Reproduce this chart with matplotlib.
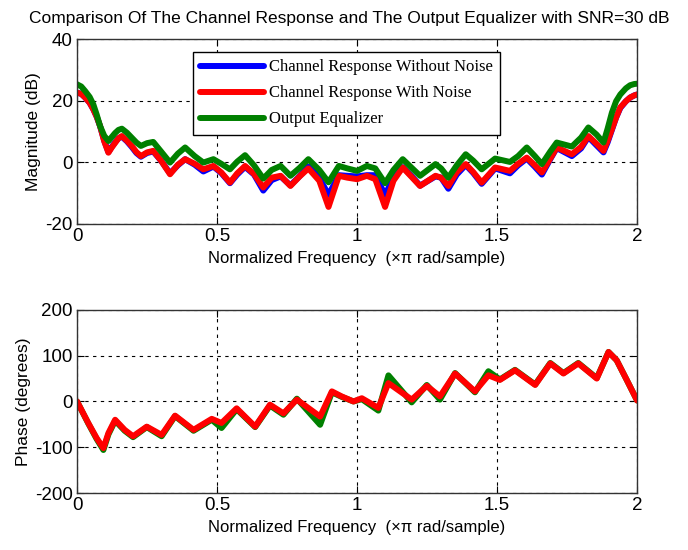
import matplotlib
matplotlib.use("Agg")
import matplotlib.pyplot as plt

# magnitude response (dB)
f_mag = [0, 0.015, 0.029, 0.045, 0.058, 0.07, 0.082, 0.097, 0.112, 0.124, 0.136, 0.148,
         0.16, 0.178, 0.195, 0.212, 0.228, 0.25, 0.272, 0.30, 0.332,
         0.36, 0.386, 0.42, 0.451, 0.487, 0.515, 0.546, 0.572, 0.60, 0.632, 0.665,
         0.695, 0.727, 0.762, 0.795, 0.826, 0.865, 0.898, 0.935, 0.965, 1.0,
         1.035, 1.065, 1.1, 1.13, 1.163, 1.195, 1.225, 1.28, 1.30, 1.326, 1.356,
         1.388, 1.415, 1.445, 1.493, 1.546, 1.575, 1.606, 1.635, 1.66, 1.69,
         1.713, 1.767, 1.80, 1.826, 1.855, 1.88, 1.895, 1.91, 1.925, 1.94, 1.96, 1.975, 1.99, 2.0]
mag_clean = [22.6, 22.2, 21.0, 19.3, 17.2, 14.8, 11.8, 7.0, 3.3, 5.0, 6.5, 7.8,
             8.3, 6.8, 5.0, 3.0, 1.8, 3.0, 3.5, 0.5, -3.6,
             -1.0, 1.0, -0.8, -3.0, -1.4, -3.5, -6.8, -4.0, -1.5, -4.0, -9.2,
             -5.8, -4.6, -7.5, -4.5, -1.4, -5.0, -10.6, -4.2, -4.4, -4.6,
             -4.2, -4.2, -10.6, -5.0, -1.6, -4.5, -7.6, -4.6, -5.0, -8.6, -4.0,
             -0.9, -3.5, -7.0, -2.0, -3.6, -1.0, 1.2, -1.5, -4.0, 1.0,
             4.6, 2.0, 4.5, 8.2, 5.5, 3.2, 6.5, 10.5, 14.5, 17.6, 19.8, 21.0, 21.7, 22.0]
mag_noise = [22.6, 22.2, 21.0, 19.3, 17.2, 14.8, 11.8, 6.8, 3.1, 4.8, 6.3, 7.8,
             8.5, 7.0, 5.3, 3.3, 2.0, 3.2, 3.7, 0.5, -3.9,
             -0.8, 1.0, -0.5, -2.3, -1.2, -3.3, -6.6, -3.6, -1.2, -3.8, -8.2,
             -5.0, -4.4, -7.7, -4.6, -2.0, -6.0, -14.5, -4.4, -5.0, -5.5,
             -4.4, -5.5, -14.5, -6.0, -1.7, -4.8, -7.7, -4.4, -5.0, -7.7, -3.2,
             -0.6, -3.2, -6.6, -1.7, -2.8, -0.5, 1.5, -1.0, -3.3, 1.2,
             4.8, 2.6, 5.0, 8.5, 6.0, 3.7, 7.0, 10.7, 14.5, 17.8, 19.8, 21.0, 21.7, 22.0]
mag_eq = [25.3, 24.6, 23.1, 21.2, 18.8, 15.5, 11.8, 8.6, 6.9, 8.2, 9.5, 10.5,
          10.9, 9.6, 8.0, 6.4, 5.3, 6.2, 6.6, 3.5, -0.1,
          2.8, 4.8, 2.0, -0.1, 1.0, -0.5, -2.3, 0.2, 2.3, -1.0, -5.3,
          -2.5, -1.2, -4.4, -1.8, 1.0, -2.5, -6.5, -1.2, -2.0, -2.8,
          -1.2, -2.0, -6.8, -2.5, 1.0, -1.8, -4.4, -0.6, -2.0, -5.0, -1.0,
          2.6, 0.5, -2.3, 1.2, 0.1, 2.0, 4.8, 2.0, -0.6, 3.5,
          6.4, 5.1, 8.0, 11.3, 9.0, 6.4, 11.0, 16.1, 19.8, 22.0, 24.0, 25.0, 25.4, 25.5]

# phase response (degrees)
f_ph = [0, 0.04, 0.07, 0.094, 0.112, 0.136, 0.17, 0.2, 0.249, 0.302, 0.35, 0.416, 0.481,
        0.516, 0.57, 0.636, 0.689, 0.737, 0.785, 0.868, 0.91, 0.945, 0.987,
        1.017, 1.076, 1.112, 1.195, 1.249, 1.296, 1.35, 1.421, 1.469, 1.51,
        1.564, 1.636, 1.69, 1.737, 1.79, 1.856, 1.898, 1.927, 1.963, 2.0]
ph_noise = [0, -47, -80, -102, -69, -40, -62, -76, -55, -73, -31, -62, -38,
            -47, -15, -55, -7, -26, 4, -33, 22, 11, 0,
            7, -14, 40, 4, 34, 11, 61, 22, 57, 47,
            68, 36, 83, 61, 83, 50, 108, 90, 47, 2]
ph_eq = [0, -48, -82, -106, -72, -42, -64, -78, -56, -76, -32, -64, -40,
         -58, -17, -56, -9, -29, 6, -51, 20, 10, 0,
         5, -20, 57, -2, 36, 4, 62, 20, 66, 48,
         69, 37, 84, 62, 84, 51, 108, 90, 47, 2]

labels = ['Channel Response Without Noise', 'Channel Response With Noise', 'Output Equalizer']

plt.rcParams['font.family'] = ['Liberation Sans', 'DejaVu Sans']
plt.rcParams['axes.unicode_minus'] = False

fig = plt.figure(figsize=(6.88, 5.5), dpi=100)
ax1 = fig.add_axes([0.112, 0.593, 0.814, 0.336])
ax2 = fig.add_axes([0.112, 0.1036, 0.814, 0.333])

lw = 4.3
style = dict(lw=lw, solid_joinstyle='round', solid_capstyle='round')
ax1.plot(f_mag, mag_clean, color='#0000ff', label=labels[0], **style)
ax1.plot(f_mag, mag_noise, color='#ff0000', label=labels[1], **style)
ax1.plot(f_mag, mag_eq, color='#008000', label=labels[2], **style)
ax1.set_ylim(-20, 40)
ax1.set_yticks([-20, 0, 20, 40])
ax1.set_ylabel('Magnitude (dB)', fontsize=12.5, labelpad=3)

ax2.plot(f_ph, ph_eq, color='#008000', **style)
ax2.plot(f_ph, ph_noise, color='#ff0000', **style)
ax2.set_ylim(-200, 200)
ax2.set_yticks([-200, -100, 0, 100, 200])
ax2.set_ylabel('Phase (degrees)', fontsize=12.5, labelpad=3)

for ax in (ax1, ax2):
    ax.set_xlim(0, 2)
    ax.set_xticks([0, 0.5, 1, 1.5, 2])
    ax.set_xticklabels(['0', '0.5', '1', '1.5', '2'])
    ax.grid(True, color='k', linestyle=(0, (3, 4)), linewidth=0.8)
    ax.tick_params(direction='in', top=True, right=True, length=5, labelsize=13.5, pad=3)
    ax.set_xlabel('Normalized Frequency  (×π rad/sample)', fontsize=12, labelpad=4)
    for s in ax.spines.values():
        s.set_color('#333333')
        s.set_linewidth(1.0)

leg = ax1.legend(loc='upper left', bbox_to_anchor=(0.207, 0.93), borderaxespad=0,
                 prop={'family': ['Liberation Serif'], 'size': 12},
                 handlelength=3.8, handletextpad=0.3, labelspacing=0.6,
                 borderpad=0.45, fancybox=False, framealpha=1, edgecolor='k')
leg.get_frame().set_linewidth(1.0)

fig.text(0.508, 0.967, 'Comparison Of The Channel Response and The Output Equalizer with SNR=30 dB',
         ha='center', va='center', fontsize=12.5)

fig.savefig('out.png', dpi=100)
